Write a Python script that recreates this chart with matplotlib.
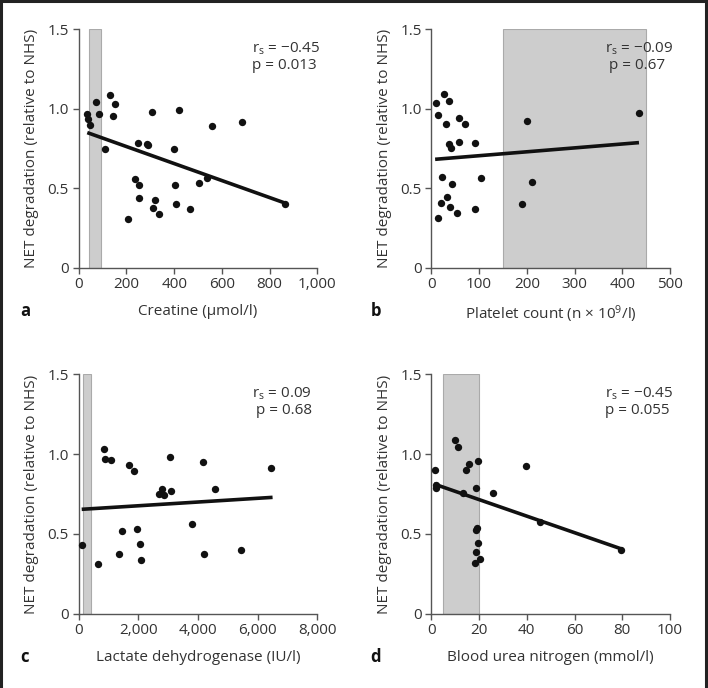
import numpy as np
import matplotlib
matplotlib.use("Agg")
import matplotlib.pyplot as plt
from matplotlib.lines import Line2D

plt.rcParams['font.family'] = ['Open Sans', 'DejaVu Sans']
plt.rcParams['mathtext.default'] = 'regular'

# ---- data ----
# a: creatine
creat_x = [36, 40, 47, 74, 85, 112, 133, 145, 151, 208, 237, 249, 251, 251, 286, 289,
           309, 313, 320, 335, 401, 404, 409, 422, 465, 503, 539, 560, 684, 864]
creat_y = [0.965, 0.936, 0.896, 1.04, 0.967, 0.747, 1.085, 0.952, 1.028, 0.308, 0.558,
           0.783, 0.52, 0.436, 0.778, 0.77, 0.982, 0.375, 0.426, 0.338, 0.749, 0.518,
           0.401, 0.994, 0.367, 0.533, 0.566, 0.893, 0.915, 0.399]
creat_fit_x = [36, 868]
creat_fit_y = [0.85, 0.405]
creat_ref = [42, 94]

# b: platelet count
plt_x = [10.5, 13, 13, 27, 22, 20, 31, 33, 37, 38, 41, 40, 43, 54, 57, 59, 70, 91.5,
         92, 104, 190, 200, 211, 436]
plt_y = [1.036, 0.959, 0.315, 1.091, 0.573, 0.409, 0.902, 0.443, 1.051, 0.778, 0.755,
         0.384, 0.529, 0.342, 0.789, 0.94, 0.902, 0.787, 0.371, 0.566, 0.403, 0.923,
         0.539, 0.971]
plt_fit_x = [8, 435]
plt_fit_y = [0.682, 0.787]
plt_ref = [150, 450]

# c: lactate dehydrogenase
ldh_x = [100, 648, 860, 883, 1095, 1363, 1453, 1687, 1855, 1944, 2067, 2089, 2704,
         2782, 2860, 3073, 3084, 3799, 4179, 4190, 4570, 5453, 6436]
ldh_y = [0.428, 0.311, 1.03, 0.969, 0.965, 0.376, 0.518, 0.932, 0.896, 0.533, 0.439,
         0.338, 0.752, 0.783, 0.746, 0.984, 0.771, 0.56, 0.953, 0.376, 0.781, 0.401,
         0.915]
ldh_fit_x = [100, 6500]
ldh_fit_y = [0.654, 0.729]
ldh_ref = [150, 400]

# d: blood urea nitrogen
bun_x = [1.4, 1.8, 2.1, 9.9, 11.3, 13.3, 14.7, 15.8, 18.7, 18.6, 19.0, 18.3, 18.9,
         19.4, 19.7, 20.3, 25.7, 39.8, 45.7, 79.6]
bun_y = [0.902, 0.79, 0.805, 1.09, 1.046, 0.754, 0.9, 0.936, 0.786, 0.524, 0.539,
         0.315, 0.384, 0.959, 0.443, 0.345, 0.756, 0.926, 0.577, 0.402]
bun_fit_x = [1.1, 80]
bun_fit_y = [0.813, 0.404]
bun_ref = [5, 20]

y_ticks = [0, 0.5, 1.0, 1.5]
y_labels = ['0', '0.5', '1.0', '1.5']

TXT = '#333333'
AX = '#555555'
FS = 11


def draw_panel(ax, xs, ys, fit_x, fit_y, ref, xmax, xticks, xlabels, xlabel, stats):
    ax.axvspan(ref[0], ref[1], facecolor='#cdcdcd', edgecolor='#aaaaaa', lw=0.8, zorder=0)
    ax.plot(fit_x, fit_y, color='#111111', lw=2.6, solid_capstyle='butt', zorder=2)
    ax.scatter(xs, ys, s=28, color='#111111', zorder=3, clip_on=False, lw=0)

    ax.set_xlim(0, xmax)
    ax.set_ylim(0, 1.5)
    ax.set_xticks(xticks)
    ax.set_xticklabels(xlabels)
    ax.set_yticks(y_ticks)
    ax.set_yticklabels(y_labels)
    for s in ['top', 'right']:
        ax.spines[s].set_visible(False)
    for s in ['left', 'bottom']:
        ax.spines[s].set_color(AX)
        ax.spines[s].set_linewidth(1.0)
    ax.tick_params(direction='out', length=4, width=1.0, color=AX,
                   labelsize=FS, labelcolor=TXT, pad=3)
    ax.set_xlabel(xlabel, fontsize=FS, color=TXT, labelpad=8)
    ax.set_ylabel('NET degradation (relative to NHS)', fontsize=FS, color=TXT, labelpad=6)
    ax.text(0.728, 0.952, stats, transform=ax.transAxes, ha='left', va='top',
            fontsize=FS, color=TXT, linespacing=1.1)


fig = plt.figure(figsize=(7.08, 6.88), dpi=100)
W, H = 708, 688


def add_axes(left, top, right, bottom):
    return fig.add_axes([left / W, 1 - bottom / H, (right - left) / W, (bottom - top) / H])


ax_a = add_axes(78.7, 29.3, 317.3, 267.7)
ax_b = add_axes(431.3, 29.3, 670.0, 267.7)
ax_c = add_axes(78.7, 374.3, 317.3, 613.7)
ax_d = add_axes(431.3, 374.3, 670.0, 613.7)

draw_panel(ax_a, creat_x, creat_y, creat_fit_x, creat_fit_y, creat_ref, 1000,
           [0, 200, 400, 600, 800, 1000], ['0', '200', '400', '600', '800', '1,000'],
           'Creatine (µmol/l)', 'r$_{s}$ = −0.45\np = 0.013')
draw_panel(ax_b, plt_x, plt_y, plt_fit_x, plt_fit_y, plt_ref, 500,
           [0, 100, 200, 300, 400, 500], ['0', '100', '200', '300', '400', '500'],
           'Platelet count (n × 10$^{9}$/l)', 'r$_{s}$ = −0.09\n p = 0.67')
draw_panel(ax_c, ldh_x, ldh_y, ldh_fit_x, ldh_fit_y, ldh_ref, 8000,
           [0, 2000, 4000, 6000, 8000], ['0', '2,000', '4,000', '6,000', '8,000'],
           'Lactate dehydrogenase (IU/l)', 'r$_{s}$ = 0.09\n p = 0.68')
draw_panel(ax_d, bun_x, bun_y, bun_fit_x, bun_fit_y, bun_ref, 100,
           [0, 20, 40, 60, 80, 100], ['0', '20', '40', '60', '80', '100'],
           'Blood urea nitrogen (mmol/l)', 'r$_{s}$ = −0.45\np = 0.055')

# panel letters
for lx, ly, letter in [(20, 316, 'a'), (371, 316, 'b'), (20, 662, 'c'), (370, 662, 'd')]:
    fig.text(lx / W, 1 - ly / H, letter, fontsize=12, fontweight='bold',
             color='#111111', ha='left', va='baseline')

# dark frame round the figure (top, left, right)
for xs_, ys_ in [([0, 1], [0.999, 0.999]), ([0.0015, 0.0015], [0, 1]), ([0.9965, 0.9965], [0, 1])]:
    fig.add_artist(Line2D(xs_, ys_, transform=fig.transFigure, color='#222222', lw=2.2))

fig.savefig('out.png', dpi=100)
